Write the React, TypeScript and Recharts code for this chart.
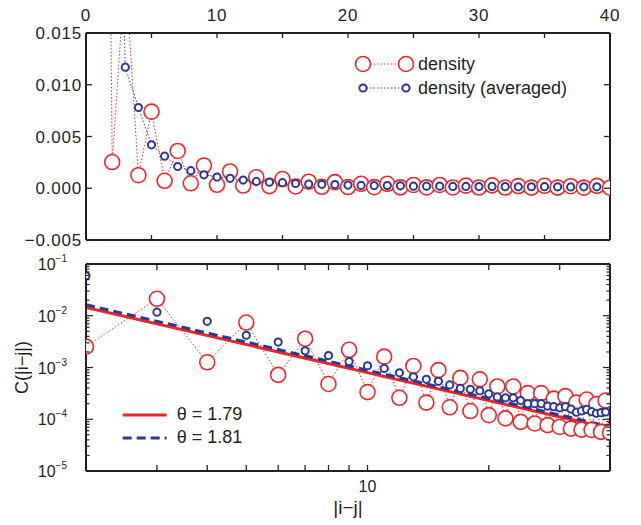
import { LineChart, Line, XAxis, YAxis, Legend } from "recharts";

// |i-j| separations
const separation = [
  1, 2, 3, 4, 5, 6, 7, 8, 9, 10, 11, 12, 13, 14, 15, 16, 17, 18, 19, 20,
  21, 22, 23, 24, 25, 26, 27, 28, 29, 30, 31, 32, 33, 34, 35, 36, 37, 38, 39, 40,
];

// C(|i-j|), raw
const density = [
  0.14, 0.00253, 0.0213, 0.00126, 0.0074, 0.00072, 0.0036, 0.00048, 0.0022, 0.000335,
  0.00162, 0.00026, 0.00107, 0.00021, 0.00089, 0.00017, 0.00063, 0.000144, 0.00059, 0.00012,
  0.00043, 0.000104, 0.00043, 0.000089, 0.00032, 0.000083, 0.00032, 0.000077, 0.00025, 0.000071,
  0.00028, 0.000066, 0.00021, 0.000063, 0.00024, 0.000062, 0.000196, 0.000057, 0.00023, 0.000055,
];

// C(|i-j|), averaged
const densityAveraged = [
  null, 0.059, 0.0117, 0.0078, 0.0042, 0.0031, 0.0021, 0.0017, 0.0013, 0.00108,
  0.00096, 0.00079, 0.00066, 0.00059, 0.00054, 0.00046, 0.000395, 0.00038, 0.000355, 0.00031,
  0.00027, 0.00026, 0.00026, 0.00023, 0.0002, 0.0002, 0.0002, 0.00018, 0.000175, 0.000166,
  0.000175, 0.000157, 0.000137, 0.000145, 0.000155, 0.00014, 0.00013, 0.000134, 0.000138, null,
];

// power-law fits, end points
const fitX = [2, 40];
const fit179 = [0.0144, 0.000066];
const fit181 = [0.0163, 0.000072];

// axis ticks
const linXTicks = [0, 5, 10, 15, 20, 25, 30, 35, 40];
const linYTicks = [-0.005, 0, 0.005, 0.01, 0.015];
const logXTicks = [3, 4, 5, 6, 7, 8, 9, 10, 20, 30];
const logYMajor = [1e-5, 1e-4, 1e-3, 1e-2, 1e-1];
const logYTicks = logYMajor.flatMap((d, k) =>
  k === logYMajor.length - 1 ? [d] : [1, 2, 3, 4, 5, 6, 7, 8, 9].map((m) => m * d)
);

const rows = separation.map((x, i) => ({
  x,
  density: density[i],
  averaged: densityAveraged[i],
}));
const logRows = rows.filter((r) => r.x >= 2);
const fitRows179 = fitX.map((x, i) => ({ x, c: fit179[i] }));
const fitRows181 = fitX.map((x, i) => ({ x, c: fit181[i] }));

const RED = "#e8262b";
const BLUE = "#2b3990";
const INK = "#231f20";
const FONT = '"Liberation Sans", Arial, Helvetica, sans-serif';

const frame = { stroke: INK, strokeWidth: 2 };

type TickProps = { x?: number; y?: number; payload?: { value: number } };

const fmtLin = (v: number) => (v < 0 ? "\u2212" : "") + Math.abs(v).toFixed(3);
const isDecade = (v: number) => Math.abs(Math.log10(v) - Math.round(Math.log10(v))) < 1e-6;

// top panel ticks
function LinTopTick({ x = 0, y = 0, payload }: TickProps) {
  const v = payload?.value ?? 0;
  return (
    <g>
      <line x1={x} x2={x} y1={y} y2={y + 5} stroke={INK} strokeWidth={1.3} />
      {v % 10 === 0 && (
        <text x={x} y={y - 12} textAnchor="middle" fontSize={17} letterSpacing={0.8} fill={INK} fontFamily={FONT}>
          {v}
        </text>
      )}
    </g>
  );
}

function LinBottomTick({ x = 0, y = 0 }: TickProps) {
  return <line x1={x} x2={x} y1={y} y2={y - 5} stroke={INK} strokeWidth={1.3} />;
}

function LinLeftTick({ x = 0, y = 0, payload }: TickProps) {
  const v = payload?.value ?? 0;
  return (
    <g>
      <line x1={x} x2={x + 6} y1={y} y2={y} stroke={INK} strokeWidth={1.3} />
      <text x={x - 4} y={y + 6} textAnchor="end" fontSize={17} letterSpacing={0.8} fill={INK} fontFamily={FONT}>
        {fmtLin(v)}
      </text>
    </g>
  );
}

function LinRightTick({ x = 0, y = 0 }: TickProps) {
  return <line x1={x} x2={x - 6} y1={y} y2={y} stroke={INK} strokeWidth={1.3} />;
}

// bottom panel ticks
function LogBottomTick({ x = 0, y = 0, payload }: TickProps) {
  const v = payload?.value ?? 0;
  return (
    <g>
      <line x1={x} x2={x} y1={y} y2={y - 6} stroke={INK} strokeWidth={1.3} />
      {v === 10 && (
        <text x={x} y={y + 21} textAnchor="middle" fontSize={16} fill={INK} fontFamily={FONT}>
          10
        </text>
      )}
    </g>
  );
}

function LogTopTick({ x = 0, y = 0 }: TickProps) {
  return <line x1={x} x2={x} y1={y} y2={y + 6} stroke={INK} strokeWidth={1.3} />;
}

function LogLeftTick({ x = 0, y = 0, payload }: TickProps) {
  const v = payload?.value ?? 1;
  const major = isDecade(v);
  const exp = Math.round(Math.log10(v));
  return (
    <g>
      <line x1={x} x2={x + (major ? 7 : 3.5)} y1={y} y2={y} stroke={INK} strokeWidth={1.2} />
      {major && (
        <text x={x - 19} y={y + 6} textAnchor="end" fontSize={16} fill={INK} fontFamily={FONT}>
          10
          <tspan dy={-8} fontSize={10}>
            {"\u2212" + Math.abs(exp)}
          </tspan>
        </text>
      )}
    </g>
  );
}

function LogRightTick({ x = 0, y = 0, payload }: TickProps) {
  const v = payload?.value ?? 1;
  const major = isDecade(v);
  return <line x1={x} x2={x - (major ? 7 : 3.5)} y1={y} y2={y} stroke={INK} strokeWidth={1.2} />;
}

function YTitle({ viewBox }: { viewBox?: { x: number; y: number; width: number; height: number } }) {
  if (!viewBox) return null;
  const cx = viewBox.x + viewBox.width - 64;
  const cy = viewBox.y + viewBox.height / 2;
  return (
    <text
      x={cx}
      y={cy}
      transform={`rotate(-90 ${cx} ${cy})`}
      textAnchor="middle"
      dy={6}
      fontSize={18}
      fill={INK}
      fontFamily={FONT}
    >
      C(|i−j|)
    </text>
  );
}

function XTitle({ viewBox }: { viewBox?: { x: number; y: number; width: number; height: number } }) {
  if (!viewBox) return null;
  return (
    <text
      x={viewBox.x + viewBox.width / 2}
      y={viewBox.y + 43}
      textAnchor="middle"
      fontSize={19}
      fill={INK}
      fontFamily={FONT}
    >
      |i−j|
    </text>
  );
}

function DensityLegend() {
  const row = { display: "flex", alignItems: "center", height: 24 } as const;
  return (
    <div style={{ fontFamily: FONT, fontSize: 18, color: INK }}>
      <div style={row}>
        <svg width={64} height={24}>
          <line x1={13} x2={56} y1={12} y2={12} stroke={RED} strokeWidth={1} strokeDasharray="1.5 2" />
          <circle cx={13} cy={12} r={7.5} fill="#fff" stroke={RED} strokeWidth={1.6} />
          <circle cx={56} cy={12} r={7.5} fill="#fff" stroke={RED} strokeWidth={1.6} />
        </svg>
        <span style={{ marginLeft: 4 }}>density</span>
      </div>
      <div style={row}>
        <svg width={64} height={24}>
          <line x1={13} x2={56} y1={12} y2={12} stroke={BLUE} strokeWidth={1} strokeDasharray="1.5 2" />
          <circle cx={13} cy={12} r={3.6} fill="#fff" stroke={BLUE} strokeWidth={2} />
          <circle cx={56} cy={12} r={3.6} fill="#fff" stroke={BLUE} strokeWidth={2} />
        </svg>
        <span style={{ marginLeft: 4 }}>density (averaged)</span>
      </div>
    </div>
  );
}

function FitLegend() {
  const row = { display: "flex", alignItems: "center", height: 22.7 } as const;
  return (
    <div style={{ fontFamily: FONT, fontSize: 18, color: INK }}>
      <div style={row}>
        <svg width={54} height={22}>
          <line x1={4.7} x2={48.7} y1={11} y2={11} stroke={RED} strokeWidth={3} />
        </svg>
        <span style={{ marginLeft: 4.7 }}>θ = 1.79</span>
      </div>
      <div style={row}>
        <svg width={54} height={22}>
          <line x1={4.7} x2={48.7} y1={11} y2={11} stroke={BLUE} strokeWidth={3} strokeDasharray="9 5" />
        </svg>
        <span style={{ marginLeft: 4.7 }}>θ = 1.81</span>
      </div>
    </div>
  );
}

const redDot = { r: 7.5, stroke: RED, strokeWidth: 1.6, fill: "#fff", strokeDasharray: "none" };
const blueDot = { r: 3.6, stroke: BLUE, strokeWidth: 2, fill: "#fff", strokeDasharray: "none" };

export default function App() {
  return (
    <div style={{ position: "absolute", left: 0, top: 0, width: 641, height: 525, background: "#fff" }}>
      <div style={{ position: "absolute", left: 0, top: 0 }}>
        <LineChart width={641} height={250} data={rows} margin={{ top: 8, right: 11, bottom: 0, left: 26 }}>
          <XAxis
            xAxisId="top"
            orientation="top"
            dataKey="x"
            type="number"
            domain={[0, 40]}
            ticks={linXTicks}
            interval={0}
            height={25}
            tickSize={0}
            tickMargin={0}
            tickLine={false}
            axisLine={frame}
            tick={(p: TickProps) => <LinTopTick {...p} />}
            allowDataOverflow
          />
          <XAxis
            xAxisId="bottom"
            orientation="bottom"
            dataKey="x"
            type="number"
            domain={[0, 40]}
            ticks={linXTicks}
            interval={0}
            height={10}
            tickSize={0}
            tickMargin={0}
            tickLine={false}
            axisLine={frame}
            tick={(p: TickProps) => <LinBottomTick {...p} />}
            allowDataOverflow
          />
          <YAxis
            yAxisId="left"
            type="number"
            domain={[-0.005, 0.015]}
            ticks={linYTicks}
            interval={0}
            width={60}
            tickSize={0}
            tickMargin={0}
            tickLine={false}
            axisLine={frame}
            tick={(p: TickProps) => <LinLeftTick {...p} />}
            allowDataOverflow
          />
          <YAxis
            yAxisId="right"
            orientation="right"
            type="number"
            domain={[-0.005, 0.015]}
            ticks={linYTicks}
            interval={0}
            width={20}
            tickSize={0}
            tickMargin={0}
            tickLine={false}
            axisLine={frame}
            tick={(p: TickProps) => <LinRightTick {...p} />}
            allowDataOverflow
          />
          <Line
            xAxisId="top"
            yAxisId="left"
            type="linear"
            dataKey="density"
            name="density"
            stroke={RED}
            strokeWidth={1}
            strokeDasharray="1.5 2"
            dot={redDot}
            activeDot={false}
            isAnimationActive={false}
          />
          <Line
            xAxisId="top"
            yAxisId="left"
            type="linear"
            dataKey="averaged"
            name="density (averaged)"
            stroke={BLUE}
            strokeWidth={1}
            strokeDasharray="1.5 2"
            dot={blueDot}
            activeDot={false}
            isAnimationActive={false}
          />
          <Legend
            layout="vertical"
            align="center"
            verticalAlign="middle"
            content={() => <DensityLegend />}
            wrapperStyle={{ left: 350, top: 52, width: 260, height: 48 }}
          />
        </LineChart>
      </div>
      <div style={{ position: "absolute", left: 0, top: 250 }}>
        <LineChart width={641} height={275} margin={{ top: 4, right: 11, bottom: 14, left: 26 }}>
          <XAxis
            xAxisId="bottom"
            orientation="bottom"
            dataKey="x"
            type="number"
            scale="log"
            domain={[2, 40]}
            ticks={logXTicks}
            interval={0}
            height={40}
            tickSize={0}
            tickMargin={0}
            tickLine={false}
            axisLine={frame}
            tick={(p: TickProps) => <LogBottomTick {...p} />}
            label={<XTitle />}
            allowDataOverflow
          />
          <XAxis
            xAxisId="top"
            orientation="top"
            dataKey="x"
            type="number"
            scale="log"
            domain={[2, 40]}
            ticks={logXTicks}
            interval={0}
            height={10}
            tickSize={0}
            tickMargin={0}
            tickLine={false}
            axisLine={frame}
            tick={(p: TickProps) => <LogTopTick {...p} />}
            allowDataOverflow
          />
          <YAxis
            yAxisId="left"
            type="number"
            scale="log"
            domain={[1e-5, 1e-1]}
            ticks={logYTicks}
            interval={0}
            width={60}
            tickSize={0}
            tickMargin={0}
            tickLine={false}
            axisLine={frame}
            tick={(p: TickProps) => <LogLeftTick {...p} />}
            label={<YTitle />}
            allowDataOverflow
          />
          <YAxis
            yAxisId="right"
            orientation="right"
            type="number"
            scale="log"
            domain={[1e-5, 1e-1]}
            ticks={logYTicks}
            interval={0}
            width={20}
            tickSize={0}
            tickMargin={0}
            tickLine={false}
            axisLine={frame}
            tick={(p: TickProps) => <LogRightTick {...p} />}
            allowDataOverflow
          />
          <Line
            data={logRows}
            xAxisId="bottom"
            yAxisId="left"
            type="linear"
            dataKey="density"
            stroke={RED}
            strokeWidth={1}
            strokeDasharray="1.5 2"
            dot={redDot}
            activeDot={false}
            isAnimationActive={false}
          />
          <Line
            data={logRows}
            xAxisId="bottom"
            yAxisId="left"
            type="linear"
            dataKey="averaged"
            stroke="none"
            strokeWidth={0}
            dot={blueDot}
            activeDot={false}
            isAnimationActive={false}
          />
          <Line
            data={fitRows179}
            xAxisId="bottom"
            yAxisId="left"
            type="linear"
            dataKey="c"
            name="θ = 1.79"
            stroke={RED}
            strokeWidth={3}
            dot={false}
            activeDot={false}
            isAnimationActive={false}
          />
          <Line
            data={fitRows181}
            xAxisId="bottom"
            yAxisId="left"
            type="linear"
            dataKey="c"
            name="θ = 1.81"
            stroke={BLUE}
            strokeWidth={3}
            strokeDasharray="9 5"
            dot={false}
            activeDot={false}
            isAnimationActive={false}
          />
          <Legend
            layout="vertical"
            align="center"
            verticalAlign="middle"
            content={() => <FitLegend />}
            wrapperStyle={{ left: 118, top: 153.6, width: 200, height: 46 }}
          />
        </LineChart>
      </div>
    </div>
  );
}
